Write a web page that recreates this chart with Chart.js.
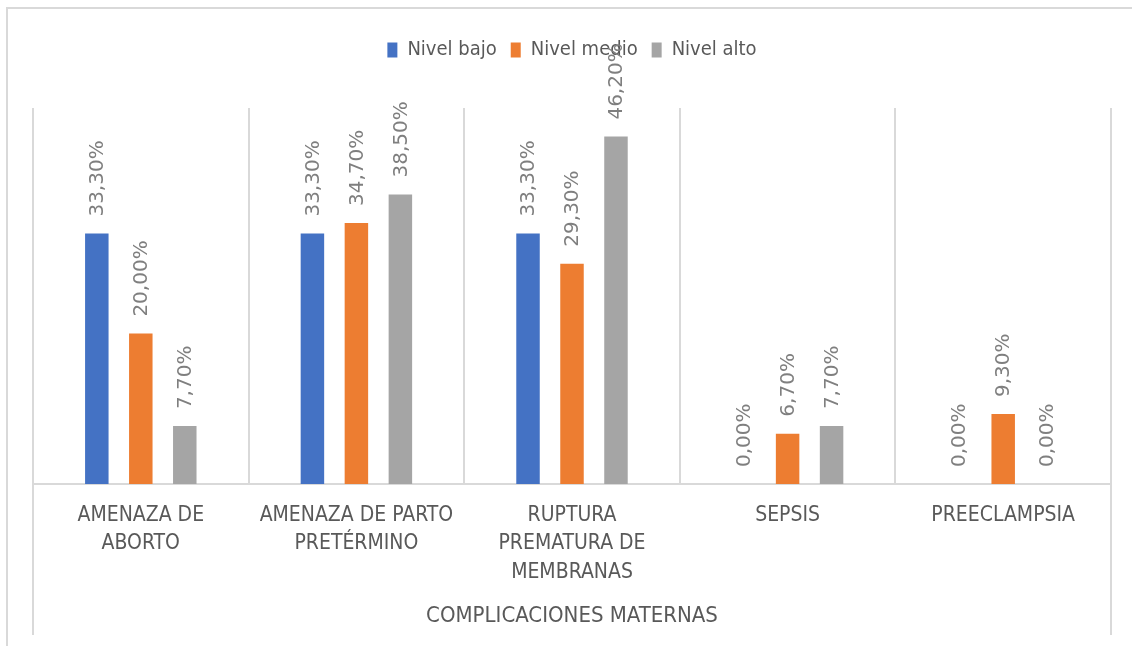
<!DOCTYPE html>
<html>
<head>
<meta charset="utf-8">
<script src="https://cdn.jsdelivr.net/npm/chart.js@4.4.1/dist/chart.umd.min.js"></script>
<style>
    html, body { margin: 0; padding: 0; background: #ffffff; }
    #wrap { position: relative; width: 1132px; height: 646px; overflow: hidden; }
    #frame { position: absolute; left: 6px; top: 7px; width: 2000px; height: 2000px;
             border-left: 2px solid #d9d9d9; border-top: 2px solid #d9d9d9; }
    #holder { position: absolute; left: 0; top: 0; width: 1132px; height: 646px; }
</style>
</head>
<body>
<div id="wrap">
    <div id="frame"></div>
    <div id="holder"><canvas id="chart"></canvas></div>
</div>
<script>
// categorias (eje x) y valores en %
const categories = [
    ['AMENAZA DE', 'ABORTO'],
    ['AMENAZA DE PARTO', 'PRETÉRMINO'],
    ['RUPTURA', 'PREMATURA DE', 'MEMBRANAS'],
    ['SEPSIS'],
    ['PREECLAMPSIA']
];
const nivelBajo = [33.3, 33.3, 33.3, 0, 0];
const nivelMedio = [20.0, 34.7, 29.3, 6.7, 9.3];
const nivelAlto = [7.7, 38.5, 46.2, 7.7, 0];
const seriesNames = ['Nivel bajo', 'Nivel medio', 'Nivel alto'];
const seriesColors = ['#4472c4', '#ed7d31', '#a5a5a5'];

const textFont = "'DejaVu Sans Condensed', 'DejaVu Sans', sans-serif";

// etiquetas de valor giradas encima de cada barra
const valueLabels = {
    id: 'valueLabels',
    afterDatasetsDraw(chart) {
        const ctx = chart.ctx;
        ctx.save();
        ctx.font = "20px 'DejaVu Sans', sans-serif";
        ctx.fillStyle = '#7f7f7f';
        ctx.textAlign = 'left';
        ctx.textBaseline = 'middle';
        chart.data.datasets.forEach((ds, i) => {
            chart.getDatasetMeta(i).data.forEach((bar, j) => {
                const txt = ds.data[j].toFixed(2).replace('.', ',') + '%';
                ctx.save();
                ctx.translate(bar.x + 1, bar.y - 17);
                ctx.rotate(-Math.PI / 2);
                ctx.fillText(txt, 0, 0);
                ctx.restore();
            });
        });
        ctx.restore();
    }
};

// los bordes izquierdo y derecho del eje bajan hasta el pie del grafico
const edgeLines = {
    id: 'edgeLines',
    afterDraw(chart) {
        const x = chart.scales.x;
        const ctx = chart.ctx;
        ctx.save();
        ctx.strokeStyle = '#d9d9d9';
        ctx.lineWidth = 2;
        [x.left, x.right].forEach(px => {
            ctx.beginPath();
            ctx.moveTo(Math.round(px), chart.chartArea.bottom);
            ctx.lineTo(Math.round(px), 635);
            ctx.stroke();
        });
        ctx.restore();
    }
};

const ctx = document.getElementById('chart').getContext('2d');
new Chart(ctx, {
    type: 'bar',
    data: {
        labels: categories,
        datasets: [
            { label: seriesNames[0], data: nivelBajo, backgroundColor: seriesColors[0] },
            { label: seriesNames[1], data: nivelMedio, backgroundColor: seriesColors[1] },
            { label: seriesNames[2], data: nivelAlto, backgroundColor: seriesColors[2] }
        ]
    },
    options: {
        responsive: true,
        maintainAspectRatio: false,
        animation: false,
        datasets: {
            bar: { categoryPercentage: 0.612, barPercentage: 0.534 }
        },
        layout: {
            padding: { top: 26, left: 33, right: 21, bottom: 11 }
        },
        plugins: {
            legend: {
                position: 'top',
                labels: {
                    font: { family: textFont, size: 20 },
                    color: '#595959',
                    boxWidth: 10,
                    boxHeight: 15,
                    padding: 14
                }
            },
            // espacio entre la leyenda y el area del grafico
            subtitle: {
                display: true,
                text: '',
                weight: 500,
                padding: { top: 0, bottom: 28 },
                font: { size: 10, lineHeight: 1 }
            },
            tooltip: { enabled: false }
        },
        scales: {
            x: {
                offset: true,
                grid: {
                    offset: true,
                    color: '#d9d9d9',
                    lineWidth: 2,
                    drawTicks: false
                },
                border: { color: '#d9d9d9', width: 2 },
                ticks: {
                    font: { family: textFont, size: 21, lineHeight: 1.36 },
                    color: '#595959',
                    padding: 17,
                    maxRotation: 0,
                    autoSkip: false
                },
                title: {
                    display: true,
                    text: 'COMPLICACIONES MATERNAS',
                    font: { family: textFont, size: 22, lineHeight: 1.15 },
                    color: '#595959',
                    padding: { top: 0, bottom: 6 }
                }
            },
            y: {
                display: false,
                min: 0,
                max: 50
            }
        }
    },
    plugins: [valueLabels, edgeLines]
});
</script>
</body>
</html>
